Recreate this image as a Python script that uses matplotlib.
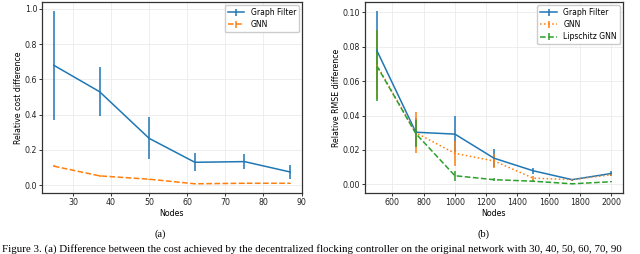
import numpy as np
import matplotlib
matplotlib.use("Agg")
import matplotlib.pyplot as plt
import matplotlib as mpl

# ---------------------------------------------------------------------------
# Data
# ---------------------------------------------------------------------------
# (a) flocking: relative cost difference vs. nodes
nodes_a = [25, 37, 50, 62, 75, 87]
gf_cost = [0.68, 0.53, 0.265, 0.129, 0.133, 0.074]
gf_cost_err = [0.31, 0.14, 0.12, 0.052, 0.042, 0.037]
gnn_cost = [0.107, 0.052, 0.033, 0.007, 0.010, 0.010]
gnn_cost_err = [0.006, 0.004, 0.003, 0.003, 0.002, 0.002]

# (b) relative RMSE difference vs. nodes
nodes_b = [500, 750, 1000, 1250, 1500, 1750, 2000]
gf_rmse = [0.078, 0.0303, 0.0292, 0.0152, 0.0079, 0.0027, 0.0063]
gf_rmse_err = [0.023, 0.008, 0.0104, 0.0052, 0.0018, 0.0006, 0.0014]
gnn_rmse = [0.0695, 0.030, 0.018, 0.0136, 0.0036, 0.0027, 0.0056]
gnn_rmse_err = [0.020, 0.012, 0.0072, 0.0039, 0.0012, 0.0005, 0.0010]
lip_rmse = [0.069, 0.0295, 0.0050, 0.0027, 0.0018, 0.0003, 0.0015]
lip_rmse_err = [0.0205, 0.0078, 0.0029, 0.0008, 0.0005, 0.0003, 0.0004]

CAPTION = ("Figure 3. (a) Difference between the cost achieved by the decentralized "
           "flocking controller on the original network with 30, 40, 50, 60, 70, 90")

# ---------------------------------------------------------------------------
# Style
# ---------------------------------------------------------------------------
mpl.rcParams.update({
    "font.family": "DejaVu Sans",
    "font.size": 5.7,
    "axes.edgecolor": "#333333",
    "axes.linewidth": 0.9,
    "xtick.major.size": 2.0,
    "ytick.major.size": 2.0,
    "xtick.major.width": 0.7,
    "ytick.major.width": 0.7,
    "xtick.color": "#333333",
    "ytick.color": "#333333",
    "xtick.labelcolor": "#222222",
    "ytick.labelcolor": "#222222",
    "xtick.major.pad": 1.5,
    "ytick.major.pad": 1.5,
    "grid.color": "#ebebeb",
    "grid.linewidth": 0.6,
})

W, H = 640, 254
fig = plt.figure(figsize=(W / 100, H / 100), dpi=100)


def px_axes(left, top, right, bottom):
    return fig.add_axes([left / W, (H - bottom) / H, (right - left) / W, (bottom - top) / H])


LW = 1.1
C = plt.rcParams["axes.prop_cycle"].by_key()["color"]
LEG = dict(loc="upper right", fontsize=5.5, handlelength=2.2, borderpad=0.4,
           labelspacing=0.4, framealpha=1, edgecolor="#cccccc", fancybox=True,
           borderaxespad=0.4)

# ---------------------------------------------------------------------------
# (a)
# ---------------------------------------------------------------------------
ax1 = px_axes(42, 2, 302, 193)
ax1.set_axisbelow(True)
ax1.grid(True)
ax1.errorbar(nodes_a, gf_cost, yerr=gf_cost_err, color=C[0], lw=LW, elinewidth=LW,
             label="Graph Filter")
ax1.errorbar(nodes_a, gnn_cost, yerr=gnn_cost_err, color=C[1], lw=LW, elinewidth=LW,
             ls="--", label="GNN")
ax1.set_xticks([30, 40, 50, 60, 70, 80, 90])
ax1.set_yticks([0.0, 0.2, 0.4, 0.6, 0.8, 1.0])
ax1.set_xlabel("Nodes", labelpad=1.5)
ax1.set_ylabel("Relative cost difference", labelpad=1)
ax1.legend(**LEG)

# ---------------------------------------------------------------------------
# (b)
# ---------------------------------------------------------------------------
ax2 = px_axes(365, 2, 623, 193)
ax2.set_axisbelow(True)
ax2.grid(True)
ax2.errorbar(nodes_b, gf_rmse, yerr=gf_rmse_err, color=C[0], lw=LW, elinewidth=LW,
             label="Graph Filter")
ax2.errorbar(nodes_b, gnn_rmse, yerr=gnn_rmse_err, color=C[1], lw=LW, elinewidth=LW,
             ls=":", label="GNN")
ax2.errorbar(nodes_b, lip_rmse, yerr=lip_rmse_err, color=C[2], lw=LW, elinewidth=LW,
             ls="--", label="Lipschitz GNN")
ax2.set_xticks([600, 800, 1000, 1200, 1400, 1600, 1800, 2000])
ax2.set_yticks([0.00, 0.02, 0.04, 0.06, 0.08, 0.10])
ax2.set_xlabel("Nodes", labelpad=1.5)
ax2.set_ylabel("Relative RMSE difference", labelpad=1)
ax2.legend(**LEG)

# ---------------------------------------------------------------------------
# Sub-captions and figure caption
# ---------------------------------------------------------------------------
serif = ["Liberation Serif", "DejaVu Serif"]
fig.text(160 / W, (H - 234) / H, "(a)", family=serif, fontsize=7.5, ha="center", va="center")
fig.text(483 / W, (H - 234) / H, "(b)", family=serif, fontsize=7.5, ha="center", va="center")
fig.text(2 / W, (H - 244) / H, CAPTION, family=serif, fontsize=7.8, ha="left", va="top")

fig.savefig("out.png", dpi=100)
